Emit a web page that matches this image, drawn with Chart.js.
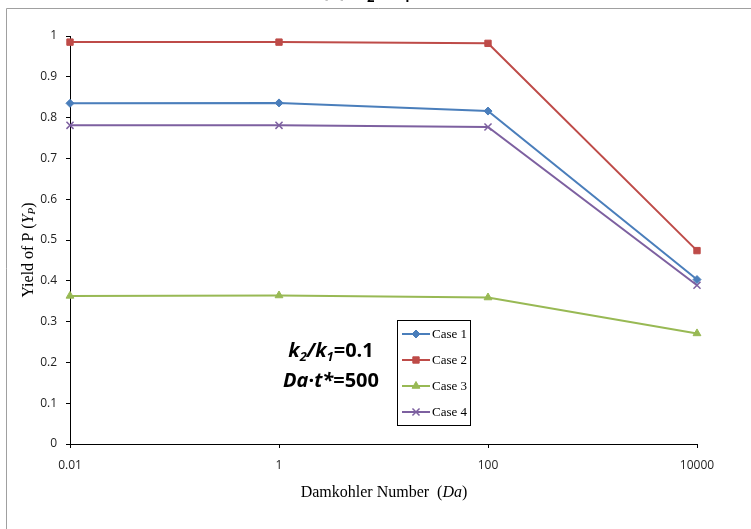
<!DOCTYPE html>
<html><head><meta charset="utf-8">
<script src="https://cdn.jsdelivr.net/npm/chart.js@4/dist/chart.umd.min.js"></script>
<style>html,body{margin:0;padding:0;background:#fff}#wrap{width:751px;height:529px;position:relative}</style>
</head><body><div id="wrap"><canvas id="c" width="751" height="529"></canvas></div>
<script>
const damkohler = [0.01, 1, 100, 10000];
const case1 = [0.835, 0.836, 0.816, 0.403];
const case2 = [0.985, 0.985, 0.982, 0.474];
const case3 = [0.363, 0.364, 0.359, 0.271];
const case4 = [0.781, 0.781, 0.777, 0.389];
const xTickValues = [0.01, 1, 100, 10000];
const seriesNames = ['Case 1', 'Case 2', 'Case 3', 'Case 4'];

function pts(ys){ return damkohler.map((x,i)=>({x:x,y:ys[i]})); }
const colors = ['#4a7ebb', '#be4b48', '#98b954', '#7d60a0'];
const styles = ['rectRot', 'rect', 'triangle', 'crossRot'];
const radii = [4, 4.5, 4.5, 5];
const all = [case1, case2, case3, case4];

const datasets = all.map((d,i)=>({
  label: seriesNames[i], data: pts(d), borderColor: colors[i], backgroundColor: colors[i],
  borderWidth: 2, pointStyle: styles[i], pointRadius: radii[i], pointBorderWidth: i===3?1.5:1,
  pointBorderColor: colors[i], pointBackgroundColor: colors[i], tension: 0, clip: false
}));

const decor = {
  id: 'decor',
  beforeDraw(chart){
    const ctx = chart.ctx;
    ctx.save();
    ctx.fillStyle = '#fff'; ctx.fillRect(0,0,chart.width,chart.height);
    ctx.strokeStyle = '#a0a0a0'; ctx.lineWidth = 1;
    ctx.beginPath(); ctx.moveTo(6.5, 529); ctx.lineTo(6.5, 8.5); ctx.lineTo(751, 8.5); ctx.stroke();
    // clipped title peeking at top
    ctx.fillStyle = '#000'; ctx.textBaseline = 'alphabetic';
    ctx.font = 'bold 19px "Open Sans"';
    ctx.fillText('(a)', 322, -3);
    ctx.font = 'bold italic 19px "Open Sans"';
    ctx.fillText('k', 356, -3);
    ctx.font = 'bold 13px "Open Sans"';
    ctx.fillText('2', 367, 2);
    ctx.font = 'bold 19px "Open Sans"';
    ctx.fillText('/', 378, -3);
    ctx.font = 'bold italic 19px "Open Sans"';
    ctx.fillText('k', 391, -3);
    ctx.font = 'bold 13px "Open Sans"';
    ctx.fillText('1', 403, 2);
    ctx.restore();
  },
  afterDraw(chart){
    const ctx = chart.ctx;
    ctx.save();
    // Y axis title
    ctx.translate(29, 250); ctx.rotate(-Math.PI/2);
    ctx.fillStyle = '#000'; ctx.textBaseline = 'middle';
    const parts = [['Yield of P (', '16px "Liberation Serif"', 0], ['Y', 'italic 16px "Liberation Serif"', 0], ['P', 'italic 11px "Liberation Serif"', 3], [')', '16px "Liberation Serif"', 0]];
    let w = 0; parts.forEach(p=>{ctx.font=p[1]; w+=ctx.measureText(p[0]).width;});
    let x = -w/2; parts.forEach(p=>{ctx.font=p[1]; ctx.fillText(p[0], x, p[2]); x+=ctx.measureText(p[0]).width;});
    ctx.restore();

    ctx.save();
    // X axis title
    ctx.fillStyle = '#000'; ctx.textBaseline = 'middle';
    const xp = [['Damkohler Number  (', '16px "Liberation Serif"'], ['Da', 'italic 16px "Liberation Serif"'], [')', '16px "Liberation Serif"']];
    w = 0; xp.forEach(p=>{ctx.font=p[1]; w+=ctx.measureText(p[0]).width;});
    x = 384 - w/2; xp.forEach(p=>{ctx.font=p[1]; ctx.fillText(p[0], x, 493); x+=ctx.measureText(p[0]).width;});

    // annotation
    const a1 = [['k', 'bold italic 20px "Open Sans"', 0], ['2', 'bold italic 13px "Open Sans"', 6], ['/', 'bold italic 20px "Open Sans"', 0], ['k', 'bold italic 20px "Open Sans"', 0], ['1', 'bold italic 13px "Open Sans"', 6], ['=0.1', 'bold 20px "Open Sans"', 0]];
    const a2 = [['Da', 'bold italic 20px "Open Sans"', 0], ['\u00b7', 'bold 20px "Open Sans"', 0], ['t*', 'bold italic 20px "Open Sans"', 0], ['=500', 'bold 20px "Open Sans"', 0]];
    [[a1, 351], [a2, 381]].forEach(([arr, yy])=>{
      let ww = 0; arr.forEach(p=>{ctx.font=p[1]; ww+=ctx.measureText(p[0]).width;});
      let xx = 331 - ww/2; arr.forEach(p=>{ctx.font=p[1]; ctx.fillText(p[0], xx, yy+p[2]); xx+=ctx.measureText(p[0]).width;});
    });

    // legend box
    ctx.strokeStyle = '#000'; ctx.lineWidth = 1;
    ctx.strokeRect(397.5, 320.5, 73, 105);
    chart.data.datasets.forEach((ds,i)=>{
      const yy = 334 + i*26;
      ctx.strokeStyle = ds.borderColor; ctx.lineWidth = 2;
      ctx.beginPath(); ctx.moveTo(402, yy); ctx.lineTo(430, yy); ctx.stroke();
      ctx.fillStyle = ds.borderColor; ctx.strokeStyle = ds.borderColor; ctx.lineWidth = ds.pointBorderWidth;
      ctx.beginPath();
      Chart.helpers.drawPoint(ctx, {pointStyle: ds.pointStyle, radius: ds.pointRadius, borderWidth: ds.pointBorderWidth, rotation: 0}, 416, yy);
      ctx.fillStyle = '#000'; ctx.font = '13px "Liberation Serif"'; ctx.textBaseline = 'middle';
      ctx.fillText(ds.label, 432, yy+1);
    });
    ctx.restore();
  }
};

new Chart(document.getElementById('c'), {
  type: 'line',
  data: { datasets: datasets },
  options: {
    responsive: false, animation: false, devicePixelRatio: 1,
    layout: { padding: { left: 0, right: 54, top: 36, bottom: 0 } },
    plugins: { legend: { display: false }, tooltip: { enabled: false } },
    scales: {
      x: {
        type: 'logarithmic', min: 0.01, max: 10000,
        afterBuildTicks(s){ s.ticks = xTickValues.map(v=>({value:v})); },
        afterFit(s){ s.height = 85; },
        ticks: { color: '#222', font: { family: '"Open Sans"', size: 12 }, padding: 10, maxRotation: 0, autoSkip: false,
          callback(v){ return String(v); } },
        grid: { drawOnChartArea: false, drawTicks: true, tickLength: 4, color: '#000' },
        border: { color: '#000', width: 1 }
      },
      y: {
        min: 0, max: 1,
        afterFit(s){ s.width = 70; },
        ticks: { stepSize: 0.1, color: '#222', font: { family: '"Open Sans"', size: 12 }, padding: 9,
          callback(v){ return String(Math.round(v*10)/10); } },
        grid: { drawOnChartArea: false, drawTicks: true, tickLength: 4, color: '#000' },
        border: { color: '#000', width: 1 }
      }
    }
  },
  plugins: [decor]
});
</script></body></html>
